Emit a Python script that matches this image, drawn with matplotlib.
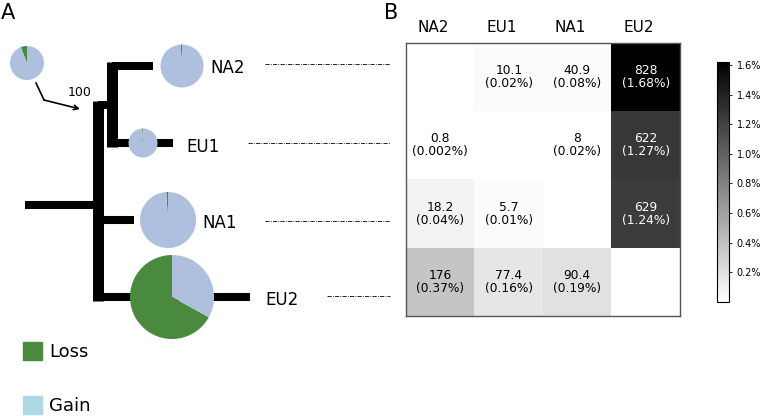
import numpy as np
import matplotlib
matplotlib.use('Agg')
import matplotlib.pyplot as plt
from matplotlib.patches import Rectangle
from matplotlib.transforms import ScaledTranslation

# populations
pops = ['NA2', 'EU1', 'NA1', 'EU2']

# fraction of loss in each pie (rest is gain), root first
root_loss = 0.06
node_loss = [0.01, 0.01, 0.01, 0.67]
# pie sizes (radius in px)
root_size = 17
node_size = [21.5, 14.5, 28, 42]

bootstrap = '100'

# pairwise values, rows/cols in order of pops (nan on the diagonal)
counts = [[np.nan, 10.1, 40.9, 828],
          [0.8, np.nan, 8, 622],
          [18.2, 5.7, np.nan, 629],
          [176, 77.4, 90.4, np.nan]]
pct = [[np.nan, 0.02, 0.08, 1.68],
       [0.002, np.nan, 0.02, 1.27],
       [0.04, 0.01, np.nan, 1.24],
       [0.37, 0.16, 0.19, np.nan]]
# cell shading (%) as it appears in the figure
shade = [[np.nan, 0.03, 0.03, 1.68],
         [0.0, np.nan, 0.005, 1.27],
         [0.08, 0.02, np.nan, 1.24],
         [0.37, 0.16, 0.19, np.nan]]

cbar_ticks = [0.2, 0.4, 0.6, 0.8, 1.0, 1.2, 1.4, 1.6]

loss_col = '#4a8a3f'
gain_col = '#aec0de'

W, H = 760, 416
fig = plt.figure(figsize=(W / 100, H / 100), dpi=100)

# panel A drawn in pixel coordinates (y pointing down)
ax = fig.add_axes([0, 0, 1, 1])
ax.set_xlim(0, W)
ax.set_ylim(H, 0)
ax.axis('off')

hw = 5.8   # horizontal branch width (pt)
vw = 7.9   # vertical branch width (pt)
ax.plot([25, 94], [205, 205], color='k', lw=hw, solid_capstyle='butt')
ax.plot([97.5, 97.5], [101, 301], color='k', lw=vw, solid_capstyle='butt')
ax.plot([97.5, 111.5], [105, 105], color='k', lw=hw, solid_capstyle='butt')
ax.plot([111.5, 111.5], [62, 147], color='k', lw=vw, solid_capstyle='butt')
ax.plot([111.5, 153], [66, 66], color='k', lw=hw, solid_capstyle='butt')
ax.plot([111.5, 173], [143, 143], color='k', lw=hw, solid_capstyle='butt')
ax.plot([97.5, 134], [220, 220], color='k', lw=hw, solid_capstyle='butt')
ax.plot([97.5, 250], [297, 297], color='k', lw=hw, solid_capstyle='butt')

pie_xy = [(182, 66), (143, 143), (168, 220), (172, 297)]
lab_xy = [(210, 68), (186, 147), (202, 223), (265, 300)]
line_x0 = [265, 248, 265, 327]
line_y = [64, 143, 221, 296]

# y axis is flipped: start at -90 (screen top), clockwise in data = ccw on screen
ax.pie([root_loss, 1 - root_loss], colors=[loss_col, gain_col], startangle=-90,
       center=(27, 63), radius=root_size, counterclock=False,
       wedgeprops=dict(linewidth=0))
for i, p in enumerate(pops):
    ax.pie([node_loss[i], 1 - node_loss[i]], colors=[loss_col, gain_col],
           startangle=-90, center=pie_xy[i], radius=node_size[i],
           counterclock=False, wedgeprops=dict(linewidth=0, zorder=3))
    ax.text(lab_xy[i][0], lab_xy[i][1], p, fontsize=12, va='center', ha='left')
    ax.plot([line_x0[i], 390], [line_y[i], line_y[i]], color='k', lw=0.6,
            dashes=(5, 1.5, 1, 1.5))

ax.set_xlim(0, W)
ax.set_ylim(H, 0)
ax.set_aspect('auto')

# arrow from root pie to root node
ax.plot([36, 44], [83, 100], color='k', lw=1.2)
ax.annotate('', xy=(80, 109), xytext=(44, 100),
            arrowprops=dict(arrowstyle='->', color='k', lw=1.2,
                            mutation_scale=8, shrinkA=0, shrinkB=0))
ax.text(80, 92, bootstrap, fontsize=9, ha='center', va='center')

# legend
ax.add_patch(Rectangle((23, 342), 19, 18, color=loss_col))
ax.text(49, 352, 'Loss', fontsize=13, va='center')
ax.add_patch(Rectangle((23, 396), 19, 18, color='lightblue'))
ax.text(49, 406, 'Gain', fontsize=13, va='center')

ax.text(1, 13, 'A', fontsize=15, va='center', ha='left')
ax.text(384, 13, 'B', fontsize=15, va='center', ha='left')

# panel B heatmap
axh = fig.add_axes([406 / W, (H - 316) / H, 274 / W, 273 / H])
im = axh.imshow(np.array(shade), cmap='gray_r', vmin=0, vmax=1.62,
                aspect='auto')
axh.set_xticks(range(len(pops)))
axh.set_xticklabels(pops, fontsize=11)
axh.xaxis.tick_top()
axh.tick_params(length=0, pad=5.5)
shift = ScaledTranslation(-7 / 100, 0, fig.dpi_scale_trans)
for lab in axh.get_xticklabels():
    lab.set_transform(lab.get_transform() + shift)
axh.set_yticks([])
for s in axh.spines.values():
    s.set_color('#555555')
    s.set_linewidth(1)
for i in range(len(pops)):
    for j in range(len(pops)):
        if np.isnan(counts[i][j]):
            continue
        c = 'white' if pct[i][j] > 0.9 else 'black'
        axh.text(j, i, '%g\n(%g%%)' % (counts[i][j], pct[i][j]), ha='center',
                 va='center', fontsize=8.8, color=c, linespacing=1.0)

axc = fig.add_axes([717 / W, (H - 302) / H, 12 / W, 240 / H])
cb = fig.colorbar(im, cax=axc, ticks=cbar_ticks)
cb.ax.set_yticklabels(['%.1f%%' % t for t in cbar_ticks])
cb.ax.tick_params(labelsize=7, length=2, width=0.6)
cb.outline.set_linewidth(0.8)

fig.savefig('out.png', dpi=100)
